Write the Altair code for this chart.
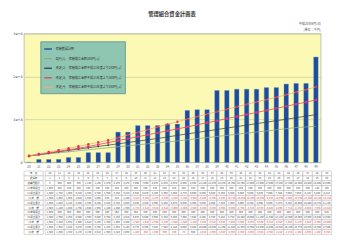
import altair as alt
import pandas as pd

# ---------------- data ----------------
years = [str(y) for y in range(20, 50)]
repair = [0, 680, 680, 700, 1140, 1140, 2270, 2270, 2270, 7050,
          7050, 8570, 8570, 8570, 8930, 8930, 12100, 12270, 12270, 16750,
          16750, 17050, 17050, 17050, 17430, 17430, 18250, 18400, 18400, 24550]
plan1 = [1500, 1740, 1980, 2220, 2460, 2700, 2940, 3180, 3410, 3640,
         3870, 4100, 4330, 4550, 4770, 5000, 5260, 5520, 5780, 6040,
         6300, 6560, 6820, 7080, 7340, 7600, 7860, 8120, 8260, 8410]
plan2 = [1500, 1820, 2140, 2460, 2780, 3100, 3410, 3720, 4020, 4330,
         4640, 4950, 5260, 5570, 5930, 6300, 6640, 6980, 7320, 7660,
         8000, 8340, 8680, 9030, 9370, 9720, 10060, 10400, 10770, 11140]
plan3 = [1500, 1900, 2250, 2600, 2950, 3300, 3700, 4150, 4610, 5070,
         5530, 5980, 6440, 6890, 7350, 7800, 8280, 8760, 9240, 9720,
         10200, 10680, 11160, 11640, 12120, 12600, 13080, 13560, 14040, 14550]
plan4 = [1500, 1980, 2420, 2870, 3300, 3750, 4220, 4690, 5160, 5770,
         6390, 7010, 7620, 8240, 8860, 9480, 10080, 10680, 11250, 11820,
         12390, 12960, 13530, 14090, 14620, 15160, 15770, 16370, 16950, 17600]

series_names = ["修繕費累計額",
                "現行(1)　修繕積立金額200円/㎡",
                "改定(2)　修繕積立金額平成21年度より250円/㎡",
                "改定(3)　修繕積立金額平成21年度より300円/㎡",
                "改定(4)　修繕積立金額平成21年度より350円/㎡"]
series_colors = ["#1d4c9c", "#8fa98c", "#3b4659", "#e2485c", "#f3a68f"]
marker_colors = ["#1d4c9c", "#8fa98c", "#2d3a70", "#e8307a", "#e8343c"]
marker_shapes = ["square", "circle", "diamond", "square", "circle"]
y_ticks = [0, 5000, 10000, 15000, 20000, 25000, 30000]

row_labels = ["年　度", "経過年", "修繕費累計", "(1)年間積立", "(1)積立累計", "(1)差　額",
              "(2)積立累計", "(2)差　額", "(3)年間積立", "(3)積立累計", "(3)差　額",
              "(4)積立累計", "(4)差　額"]

# ---------------- frames ----------------
bar_df = pd.DataFrame({"year": years, "value": repair, "series": series_names[0]})
plans = [plan1, plan2, plan3, plan4]
line_rows = []
for name, vals in zip(series_names[1:], plans):
    for y, v in zip(years, vals):
        line_rows.append({"year": y, "value": v, "series": name})
line_df = pd.DataFrame(line_rows)

cscale = alt.Scale(domain=series_names, range=series_colors)
xenc = alt.X("year:O", sort=years, title=None,
             scale=alt.Scale(paddingInner=0.55, paddingOuter=0.275),
             axis=alt.Axis(labelFontSize=3.2, labelAngle=0, ticks=False, domain=False,
                           labelPadding=2, labelColor="#666"))
yenc = alt.Y("value:Q", title=None, scale=alt.Scale(domain=[0, 30000], nice=False),
             axis=alt.Axis(values=y_ticks, format=",", labelFontSize=3.6, ticks=False,
                           domain=False, labelPadding=2, labelColor="#444",
                           labelFont="DejaVu Sans",
                           gridColor="#b8c39a", gridWidth=0.6))

bars = alt.Chart(bar_df).mark_bar(stroke="#5b8fd8", strokeWidth=0.4).encode(
    x=xenc, y=yenc,
    color=alt.Color("series:N", scale=cscale, sort=series_names,
                    legend=alt.Legend(title=None, orient="none", legendX=17, legendY=8,
                                      fillColor="#8fc6b2", strokeColor="#6d9d8c",
                                      padding=3, labelFontSize=3.2, labelLimit=150,
                                      labelColor="#333", symbolType="stroke",
                                      symbolSize=64, symbolStrokeWidth=1.4,
                                      rowPadding=2.0, labelOffset=3)))

lines = alt.Chart(line_df).mark_line(strokeWidth=0.8).encode(
    x=alt.X("year:O", sort=years), y="value:Q",
    color=alt.Color("series:N", scale=cscale, sort=series_names))

point_layers = []
for k in (2, 3, 4):
    pl = alt.Chart(line_df).transform_filter(
        alt.datum.series == series_names[k]).mark_point(
        filled=True, size=6, strokeWidth=0, shape=marker_shapes[k],
        fill=marker_colors[k], opacity=1).encode(
        x=alt.X("year:O", sort=years), y="value:Q")
    point_layers.append(pl)

top = alt.layer(bars, lines, *point_layers).properties(
    width=309, height=134,
    view=alt.ViewBackground(fill="#fcf9b5", stroke="#9a9a9a", strokeWidth=0.6),
    title=alt.TitleParams(["平成20年9月1日", "(単位：千円)"], anchor="end", fontSize=3.2,
                          fontWeight="normal", color="#555", offset=1, lineHeight=6))

# ---------------- table ----------------
cells = []
for i, y in enumerate(years):
    inc1 = plan1[i] - (plan1[i - 1] if i > 0 else 0)
    inc3 = plan3[i] - (plan3[i - 1] if i > 0 else 0)
    vals = [int(y), i + 1, repair[i], inc1, plan1[i], plan1[i] - repair[i],
            plan2[i], plan2[i] - repair[i], inc3, plan3[i], plan3[i] - repair[i],
            plan4[i], plan4[i] - repair[i]]
    for r, v in zip(row_labels, vals):
        cells.append({"year": y, "row": r, "v": v, "txt": f"{v:,}"})
tdf = pd.DataFrame(cells)

tbase = alt.Chart(tdf).encode(
    x=alt.X("year:O", sort=years, axis=None, scale=alt.Scale(paddingInner=0, paddingOuter=0)),
    y=alt.Y("row:O", sort=row_labels, axis=None, scale=alt.Scale(paddingInner=0, paddingOuter=0)))
trect = tbase.mark_rect(fill="white", stroke="#9a9a9a", strokeWidth=0.4)
ttext = tbase.mark_text(fontSize=2.6).encode(
    text="txt:N",
    color=alt.condition("datum.v < 0", alt.value("#e8383a"), alt.value("#444")))
year_table = alt.layer(trect, ttext).properties(width=298, height=66)

ldf = pd.DataFrame({"row": row_labels})
lbase = alt.Chart(ldf).encode(
    y=alt.Y("row:O", sort=row_labels, axis=None, scale=alt.Scale(paddingInner=0, paddingOuter=0)))
lrect = lbase.mark_rect(fill="white", stroke="#9a9a9a", strokeWidth=0.4)
ltext = lbase.mark_text(fontSize=2.6, color="#444").encode(text="row:N")
label_col = alt.layer(lrect, ltext).properties(width=20, height=66)

table = alt.hconcat(label_col, year_table, spacing=0)

chart = alt.vconcat(top, table, spacing=2).properties(
    title=alt.TitleParams("管理組合資金計画表", fontSize=5.5, fontWeight="bold",
                          anchor="middle", color="#333", offset=4),
    padding={"left": 12, "top": 8, "right": 10, "bottom": 6},
    background="white"
).configure(font="Noto Sans CJK JP").configure_view(strokeWidth=0)

chart.save("out.html", embed_options={"renderer": "svg", "actions": False})
